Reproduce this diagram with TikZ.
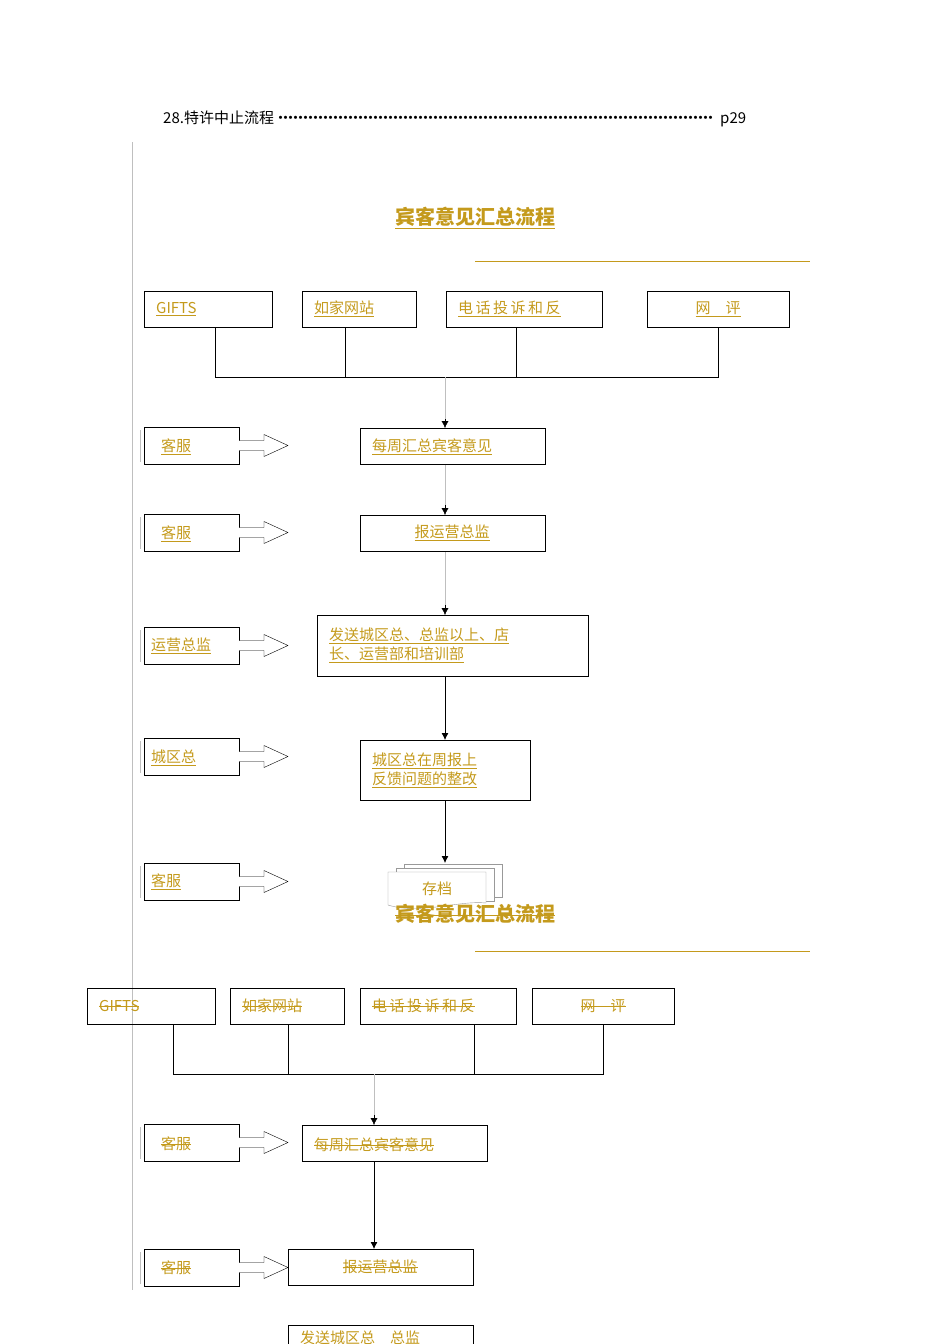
\documentclass[tikz,border=0pt]{standalone}
\usepackage{fontspec}
\setmainfont{Liberation Serif}
\newfontfamily\cjk{Noto Sans CJK SC}
\definecolor{gold}{HTML}{C49A1C}
\newcommand{\uline}[1]{\underline{#1}}
\newcommand{\sout}[1]{\setbox0\hbox{#1}\rlap{\raisebox{0.32em}{\rule{\wd0}{0.7pt}}}\box0}
\usetikzlibrary{arrows.meta}
\begin{document}
\begin{tikzpicture}[x=1pt,y=-1pt,
  box/.style={draw,thick,minimum height=36,inner sep=0pt,text=gold,font=\cjk\fontsize{15}{19}\selectfont},
  lbl/.style={text=gold,font=\cjk\fontsize{15}{19}\selectfont,anchor=west,inner sep=0pt},
  ctr/.style={text=gold,font=\cjk\fontsize{15}{19}\selectfont,inner sep=0pt},
  conn/.style={draw,thick},
  gline/.style={draw=black!25},
  tip/.style={-{Latex[length=7,width=7]}},
  barrow/.style={draw,fill=white}]
\useasboundingbox (0,0) rectangle (950,1344);
\newcommand{\barr}[1]{\draw[barrow] (239,#1-5) -- (264,#1-5) -- (264,#1-11) -- (288,#1) -- (264,#1+11) -- (264,#1+5) -- (239,#1+5);}
\node[anchor=west,inner sep=0pt,font=\cjk\fontsize{15}{19}\selectfont] (hdr) at (163,119) {\hbox to 583pt{28.特许中止流程\leaders\hbox to 5pt{\hss·\hss}\hfill\ p29}};
\draw[gline] (132,142) -- (132,1290);
% titles
\node[text=gold,font=\cjk\bfseries\fontsize{20}{24}\selectfont] (t1) at (475,218) {\uline{宾客意见汇总流程}};
\draw[gold,line width=0.9pt] (475,261) -- (810,261);
% row1
\node[box,minimum width=128,anchor=north west] (a1) at (144,291) {};
\node[lbl] at (156,309) {\uline{GIFTS}};
\node[box,minimum width=114,anchor=north west] (a2) at (302,291) {};
\node[lbl] at (314,309) {\uline{如家网站}};
\node[box,minimum width=156,anchor=north west] (a3) at (446,291) {};
\node[lbl] at (458,309) {\uline{电\,话\,投\,诉\,和\,反}};
\node[box,minimum width=142,anchor=north west] (a4) at (647,291) {};
\node[ctr] at (718,309) {\uline{网\quad 评}};
\coordinate (j1) at (445,377);
\draw[conn] (215,327) -- (215,377) -- (718,377) -- (718,327);
\draw[conn] (345,327) -- (345,377);
\draw[conn] (516,327) -- (516,377);
% column
\node[box,minimum width=185,anchor=north west] (b1) at (360,428) {};
\node[lbl] at (372,447) {\uline{每周汇总宾客意见}};
\node[box,minimum width=185,anchor=north west] (b2) at (360,515) {};
\node[ctr] at (452,533) {\uline{报运营总监}};
\node[box,minimum width=271,minimum height=61,anchor=north west] (b3) at (317,615) {};
\node[lbl,align=left] at (329,645) {\uline{发送城区总、总监以上、店}\\\uline{长、运营部和培训部}};
\node[box,minimum width=170,minimum height=60,anchor=north west] (b4) at (360,740) {};
\node[lbl,align=left] at (372,770) {\uline{城区总在周报上}\\\uline{反馈问题的整改}};
% doc stack
\draw[black!40,fill=white] (404,864) rectangle (502,897);
\draw[black!40,fill=white] (396,868) rectangle (494,901);
\draw[black!40,fill=white] (388,872) -- (486,872) -- (486,903) .. controls (460,900) and (420,915) .. (388,905) -- cycle;
\node[ctr] (b5) at (437,889) {存档};
\draw[gline] (j1) -- (445,420);
\draw[tip] (445,419) -- (j1 |- b1.north);
\draw[gline] (j1 |- b1.south) -- (445,506);
\draw[tip] (445,505) -- (j1 |- b2.north);
\draw[gline] (j1 |- b2.south) -- (445,606);
\draw[tip] (445,605) -- (j1 |- b3.north);
\draw[tip,thick] (j1 |- b3.south) -- (j1 |- b4.north);
\draw[tip,thick] (j1 |- b4.south) -- (445,863);
% left boxes
\foreach \y/\n in {427/l1,514/l2,627/l3,738/l4,863/l5}{
  \node[box,minimum width=95,minimum height=37,anchor=north west] (\n) at (144,\y) {};
  \barr{\y+18.5}
}
\node[lbl] at (161,447) {\uline{客服}};
\node[lbl] at (161,534) {\uline{客服}};
\node[lbl] at (151,646) {\uline{运营总监}};
\node[lbl] at (151,758) {\uline{城区总}};
\node[lbl] at (151,882) {\uline{客服}};
\draw[black!25] (140,430) -- (140,462) (140,517) -- (140,549) (140,630) -- (140,662) (140,741) -- (140,773) (140,866) -- (140,898);
% second copy
\node[text=gold,font=\cjk\bfseries\fontsize{20}{24}\selectfont] (t2) at (475,914) {\sout{宾客意见汇总流程}};
\draw[gold,line width=0.9pt] (475,951) -- (810,951);
\node[box,minimum width=128,anchor=north west] (c1) at (87,988) {};
\node[lbl] at (99,1006) {\sout{GIFTS}};
\node[box,minimum width=114,anchor=north west] (c2) at (230,988) {};
\node[lbl] at (242,1006) {\sout{如家网站}};
\node[box,minimum width=156,anchor=north west] (c3) at (360,988) {};
\node[lbl] at (372,1006) {\sout{电\,话\,投\,诉\,和\,反}};
\node[box,minimum width=142,anchor=north west] (c4) at (532,988) {};
\node[ctr] at (603,1006) {\sout{网\quad 评}};
\draw[conn] (173,1024) -- (173,1074) -- (603,1074) -- (603,1024);
\draw[conn] (288,1024) -- (288,1074);
\draw[conn] (474,1024) -- (474,1074);
\coordinate (j2) at (374,1074);
\node[box,minimum width=185,anchor=north west] (d1) at (302,1125) {};
\node[lbl] at (314,1145) {\sout{每周汇总宾客意见}};
\node[box,minimum width=185,anchor=north west] (d2) at (288,1249) {};
\node[ctr] at (380,1267) {\sout{报运营总监}};
\node[box,minimum width=185,minimum height=40,anchor=north west] (d3) at (288,1325) {};
\node[lbl] at (300,1338) {发送城区总\quad 总监};
\draw[gline] (j2) -- (374,1116);
\draw[tip] (374,1115) -- (j2 |- d1.north);
\draw[tip,thick] (j2 |- d1.south) -- (j2 |- d2.north);
\foreach \y/\n in {1124/m1,1249/m2}{
  \node[box,minimum width=95,minimum height=37,anchor=north west] (\n) at (144,\y) {};
  \barr{\y+18.5}
}
\node[lbl] at (161,1144) {\sout{客服}};
\node[lbl] at (161,1268) {\sout{客服}};
\draw[black!25] (140,1127) -- (140,1159) (140,1252) -- (140,1284);
\end{tikzpicture}
\end{document}
